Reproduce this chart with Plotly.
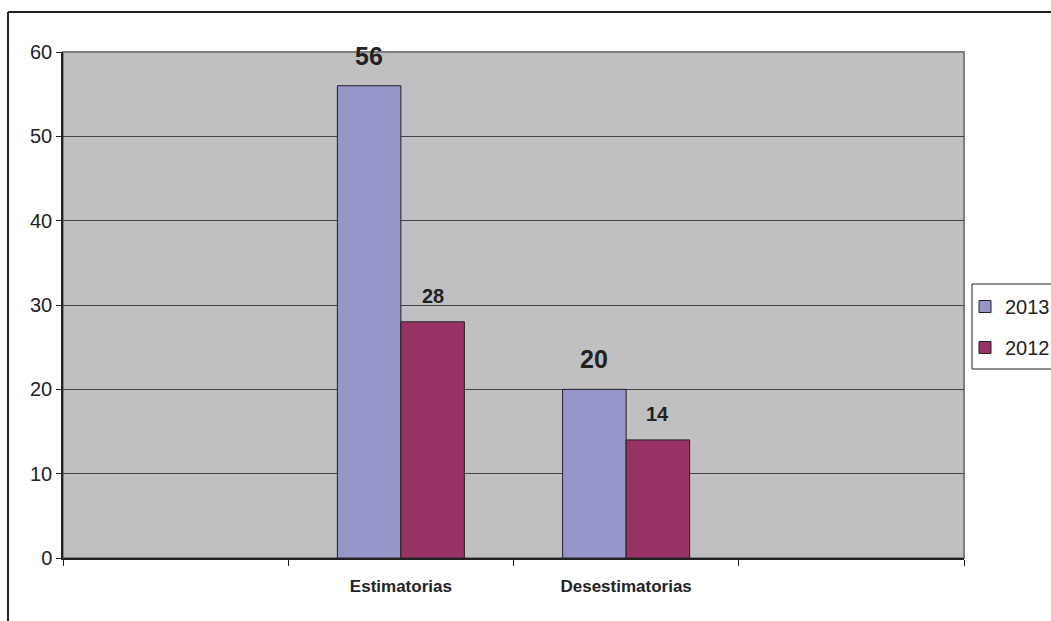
import plotly.graph_objects as go

# Category slots on the x axis (outer slots are empty)
categories = [" ", "Estimatorias", "Desestimatorias", "  "]
groups = ["Estimatorias", "Desestimatorias"]
values_2013 = [56, 20]
values_2012 = [28, 14]
y_ticks = [0, 10, 20, 30, 40, 50, 60]

W, H = 1051, 621
L, R, T, B = 63, 87, 52, 63
pw, ph = W - L - R, H - T - B

FONT = "Liberation Sans, Arial, sans-serif"
C2013 = "#9696C9"
C2012 = "#993366"

fig = go.Figure()
fig.add_trace(go.Bar(name="2013", x=groups, y=values_2013,
                     marker=dict(color=C2013, line=dict(color="#222222", width=1)), legendgroup="a"))
fig.add_trace(go.Bar(name="2012", x=groups, y=values_2012,
                     marker=dict(color=C2012, line=dict(color="#222222", width=1)), legendgroup="b"))

bargap = 0.436
half = (1 - bargap) / 4 * (pw / len(categories))  # pixel offset of each bar centre

annotations = []
for g, v in zip(groups, values_2013):
    annotations.append(dict(x=g, y=v, xref="x", yref="y", text=f"<b>{v}</b>", showarrow=False,
                            xshift=-half, yshift=30, font=dict(family=FONT, size=25, color="#222222")))
for g, v in zip(groups, values_2012):
    annotations.append(dict(x=g, y=v, xref="x", yref="y", text=f"<b>{v}</b>", showarrow=False,
                            xshift=half, yshift=26, font=dict(family=FONT, size=20, color="#222222")))


def px_x(p):
    return (p - L) / pw


def px_y(p):
    return (H - B - p) / ph


shapes = [
    # grey border on top/right of the plotting area
    dict(type="rect", xref="paper", yref="paper", x0=0, x1=1, y0=0, y1=1,
         line=dict(color="#808080", width=2), layer="below"),
    # outer frame lines
    dict(type="line", xref="paper", yref="paper", x0=px_x(8), x1=px_x(W + 5), y0=px_y(12), y1=px_y(12),
         line=dict(color="#222222", width=2)),
    dict(type="line", xref="paper", yref="paper", x0=px_x(8), x1=px_x(8), y0=px_y(12), y1=px_y(H + 5),
         line=dict(color="#222222", width=2)),
    # legend box
    dict(type="rect", xref="paper", yref="paper", x0=px_x(972), x1=px_x(W + 5), y0=px_y(369), y1=px_y(284),
         line=dict(color="#222222", width=1), fillcolor="white", layer="above"),
]

fig.update_layout(
    width=W, height=H,
    margin=dict(l=L, r=R, t=T, b=B, autoexpand=False),
    paper_bgcolor="white",
    plot_bgcolor="#C0C0C2",
    barmode="group",
    bargap=bargap,
    bargroupgap=0,
    font=dict(family=FONT, color="#222222"),
    showlegend=True,
    legend=dict(x=px_x(965), y=px_y(287), xanchor="left", yanchor="top",
                borderwidth=0, bgcolor="rgba(0,0,0,0)",
                font=dict(family=FONT, size=20, color="#222222"),
                tracegroupgap=12, traceorder="grouped"),
    annotations=annotations,
    shapes=shapes,
    xaxis=dict(type="category", categoryorder="array", categoryarray=categories,
               range=[-0.5, len(categories) - 0.5], tickson="boundaries",
               ticks="outside", ticklen=6, tickcolor="#222222",
               showline=True, linecolor="#222222", linewidth=1.5,
               showgrid=False, tickfont=dict(family=FONT, size=17, color="#222222"),
               tickvals=categories, ticktext=["", "<b>Estimatorias</b>", "<b>Desestimatorias</b>", ""],
               ticklabelstandoff=12),
    yaxis=dict(range=[0, 60], tickvals=y_ticks, ticks="outside", ticklen=5, tickcolor="#222222",
               showline=True, linecolor="#222222", linewidth=1.5,
               showgrid=True, gridcolor="#444444", gridwidth=1, zeroline=False,
               tickfont=dict(family=FONT, size=20, color="#222222")),
)

fig.write_html("out.html")
